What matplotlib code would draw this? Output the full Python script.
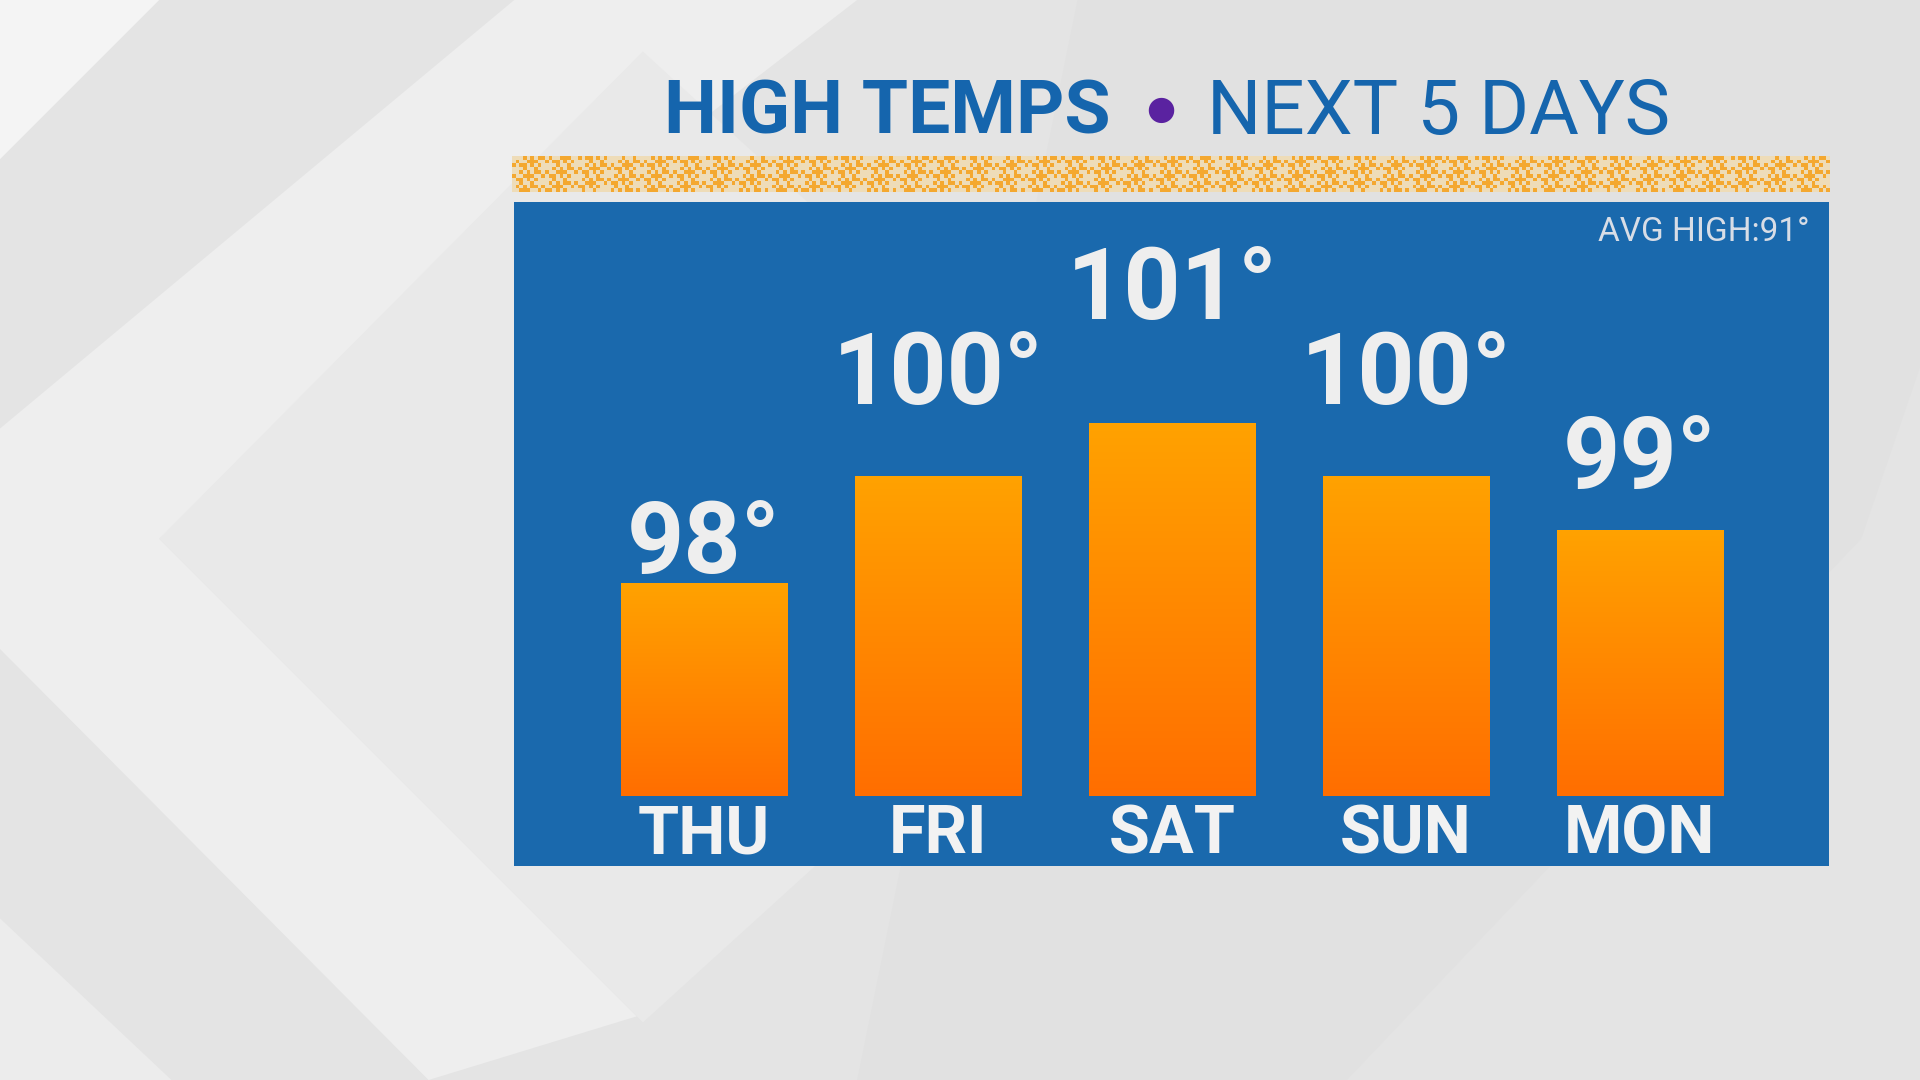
import numpy as np
import matplotlib.pyplot as plt
from matplotlib.patches import Polygon

days = ["THU", "FRI", "SAT", "SUN", "MON"]
highs = [98, 100, 101, 100, 99]
avg_high = 91
base = 94

fig = plt.figure(figsize=(19.2, 10.8), dpi=100)
fig.patch.set_facecolor("#e4e4e4")

# background with soft diagonal shapes
bg = fig.add_axes([0, 0, 1, 1])
bg.set_xlim(0, 1568)
bg.set_ylim(882, 0)
bg.axis("off")
shapes = [
    ([(0, 0), (130, 0), (0, 130)], "#f4f4f4"),
    ([(0, 350), (420, 0), (700, 0), (130, 440), (520, 830), (350, 882), (0, 530)], "#eeeeee"),
    ([(130, 440), (525, 42), (960, 440), (525, 835)], "#e9e9e9"),
    ([(880, 0), (1568, 0), (1568, 300), (1520, 440), (1100, 882), (700, 882)], "#e1e1e1"),
    ([(0, 750), (140, 882), (0, 882)], "#ececec"),
]
for pts, c in shapes:
    bg.add_patch(Polygon(pts, closed=True, color=c, lw=0))

# dotted orange band
yy, xx = np.indices((10, 360))
pat = ((xx * 7 + yy * 3) % 5 < 2) ^ ((xx + yy * 2) % 7 == 0)
band = np.ones((10, 360, 3))
band[pat] = np.array([0xF4, 0xA8, 0x30]) / 255
band[~pat] = np.array([0xEE, 0xDC, 0xB8]) / 255
bg.imshow(band, extent=[418, 1494, 157, 128], aspect="auto", interpolation="nearest", zorder=2)

# title
fy = 1 - 93 / 882
fig.text(907 / 1568, fy, "HIGH TEMPS", ha="right", va="center", fontsize=54,
         fontweight="bold", color="#1565ad", family="Roboto")
fig.text(948 / 1568, fy + 0.004, "\u25CF", ha="center", va="center", fontsize=24, color="#5a22a0")
fig.text(986 / 1568, fy, "NEXT 5 DAYS", ha="left", va="center", fontsize=55,
         color="#1565ad", family="Roboto")

# panel
ax = fig.add_axes([420 / 1568, 1 - 707 / 882, (1494 - 420) / 1568, (707 - 165) / 882])
ax.set_facecolor("#1a69ad")
ax.set_xlim(-0.81, 4.81)
ax.set_ylim(92.69, 105.17)
for s in ax.spines.values():
    s.set_visible(False)
ax.set_xticks([])
ax.set_yticks([])

grad = np.linspace(0, 1, 256)[:, None]
top_c = np.array([0xFF, 0xA2, 0x00]) / 255
bot_c = np.array([0xFF, 0x6E, 0x00]) / 255
img = (top_c * (1 - grad)[..., None] + bot_c * grad[..., None])
w = 0.71
lo = min(highs)
for i, (d, h) in enumerate(zip(days, highs)):
    ax.imshow(img, extent=[i - w / 2, i + w / 2, base, h], aspect="auto",
              origin="upper", zorder=2)
    # labels are spread more than the bars in the original graphic
    ax.text(i, 98.2 + 1.59 * (h - lo), f"{h}°", ha="center", va="baseline", fontsize=72,
            fontweight="bold", color="#eeeeee", family="Roboto")
    ax.text(i, base - 0.74, d, ha="center", va="center", fontsize=48,
            fontweight="bold", color="#f2f2f2", family="Roboto")

ax.text(0.985, 0.955, f"AVG HIGH:{avg_high}°", transform=ax.transAxes, ha="right",
        va="center", fontsize=24, color="#d8dde6", family="Roboto")

fig.savefig("out.png", dpi=100, facecolor=fig.get_facecolor())
